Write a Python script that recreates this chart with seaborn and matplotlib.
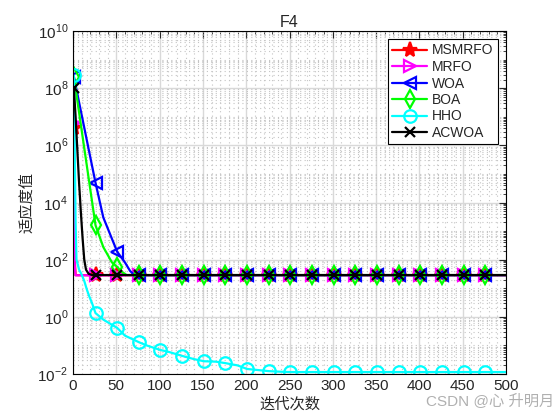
import numpy as np
import pandas as pd
import matplotlib
matplotlib.use('Agg')
import matplotlib.pyplot as plt
import matplotlib.ticker as mticker
import seaborn as sns

# 마커 위치 (1:25:500)
mark_iter = [1, 26, 51, 76, 101, 126, 151, 176, 201, 226, 251, 276, 301, 326, 351, 376, 401, 426, 451, 476]

tail_x = [26, 51, 76, 101, 126, 151, 176, 201, 226, 251, 276, 301, 326, 351, 376, 401, 426, 451, 476, 500]

# MSMRFO
msmrfo_x = [1, 2, 3] + tail_x
msmrfo_y = [4.0e6, 1.0e2, 28.7,
            28.7, 28.7, 28.7, 28.7, 28.7, 28.7, 28.7, 28.7, 28.7, 28.7,
            28.7, 28.7, 28.7, 28.7, 28.7, 28.7, 28.7, 28.7, 28.7, 28.7]

# MRFO
mrfo_x = [1, 2, 3] + tail_x
mrfo_y = [6.0e6, 60.0, 28.4,
          28.4, 28.4, 28.4, 28.4, 28.4, 28.4, 28.4, 28.4, 28.4, 28.4,
          28.4, 28.4, 28.4, 28.4, 28.4, 28.4, 28.4, 28.4, 28.4, 28.4]

# WOA
woa_x = [1, 26, 35, 51, 60, 66, 71] + tail_x[2:]
woa_y = [2.5e8, 4.9e4, 3.0e3, 190.0, 80.0, 40.0, 28.8,
         28.8, 28.8, 28.8, 28.8, 28.8, 28.8, 28.8, 28.8, 28.8,
         28.8, 28.8, 28.8, 28.8, 28.8, 28.8, 28.8, 28.8, 28.8]

# BOA
boa_x = [1, 26, 35, 45, 51, 56, 62] + tail_x[2:]
boa_y = [2.5e8, 1.6e3, 275.0, 80.0, 56.0, 38.0, 28.9,
         28.9, 28.9, 28.9, 28.9, 28.9, 28.9, 28.9, 28.9, 28.9,
         28.9, 28.9, 28.9, 28.9, 28.9, 28.9, 28.9, 28.9, 28.9]

# HHO
hho_x = [1, 2, 3, 4, 7, 10, 13, 16, 19, 22, 26, 35, 51, 60, 76, 85, 101, 110, 126, 140,
         151, 165, 176, 190, 201, 226, 240, 251, 276, 301, 326, 351, 376, 401, 426, 451, 476, 500]
hho_y = [2.8e8, 1.0e6, 2.0e3, 100.0, 45.0, 30.0, 18.0, 9.0, 5.0, 3.0, 1.35, 0.8, 0.41, 0.22,
         0.13, 0.10, 0.069, 0.06, 0.043, 0.033, 0.028, 0.027, 0.024, 0.02, 0.015, 0.0126,
         0.012, 0.0117, 0.0117, 0.0117, 0.0117, 0.0117, 0.0117, 0.0117, 0.0117, 0.0117, 0.0117, 0.0117]

# ACWOA
acwoa_x = [1, 3, 5, 7, 9, 11, 13, 15, 18, 22] + tail_x
acwoa_y = [1.0e8, 1.0e7, 7.0e5, 5.0e4, 5.0e3, 600.0, 100.0, 45.0, 32.0, 29.0,
           29.0, 29.0, 29.0, 29.0, 29.0, 29.0, 29.0, 29.0, 29.0, 29.0,
           29.0, 29.0, 29.0, 29.0, 29.0, 29.0, 29.0, 29.0, 29.0, 29.0]

series = [
    ('MSMRFO', msmrfo_x, msmrfo_y, (1, 0, 0), '*', (1, 0, 0), 11),
    ('MRFO', mrfo_x, mrfo_y, (1, 0, 1), '>', 'none', 9),
    ('WOA', woa_x, woa_y, (0, 0, 1), '<', 'none', 9),
    ('BOA', boa_x, boa_y, (0, 1, 0), 'd', 'none', 9),
    ('HHO', hho_x, hho_y, (0, 1, 1), 'o', 'none', 9),
    ('ACWOA', acwoa_x, acwoa_y, (0, 0, 0), 'x', 'none', 7),
]

sns.set_style('white')
plt.rcParams['font.family'] = ['Liberation Sans', 'Noto Sans CJK SC', 'DejaVu Sans']
plt.rcParams['mathtext.fontset'] = 'custom'
plt.rcParams['mathtext.rm'] = 'Liberation Sans'

fig = plt.figure(figsize=(5.6, 4.2), dpi=100)
ax = fig.add_axes([73 / 560, 1 - 374 / 420, 433 / 560, 343 / 420])

for name, xs, ys, col, mk, mfc, ms in series:
    df = pd.DataFrame({'iter': xs, 'fit': ys})
    idx = [i for i, v in enumerate(xs) if v in mark_iter]
    sns.lineplot(data=df, x='iter', y='fit', ax=ax, color=col, linewidth=1.6,
                 marker=mk, markevery=idx, markersize=ms, markerfacecolor=mfc,
                 markeredgecolor=col, markeredgewidth=1.6, label=name,
                 sort=False, estimator=None)

ax.set_yscale('log')
ax.set_xlim(0, 500)
ax.set_ylim(1e-2, 1e10)
ax.xaxis.set_major_locator(mticker.MultipleLocator(50))
ax.xaxis.set_minor_locator(mticker.MultipleLocator(10))
ax.yaxis.set_major_locator(mticker.FixedLocator([1e-2, 1e0, 1e2, 1e4, 1e6, 1e8, 1e10]))
ax.yaxis.set_major_formatter(mticker.FuncFormatter(lambda v, p: r'$10^{%d}$' % round(np.log10(v))))
ax.yaxis.set_minor_locator(mticker.LogLocator(base=10, subs=np.arange(1, 10), numticks=100))
ax.yaxis.set_minor_formatter(mticker.NullFormatter())

ax.grid(True, which='major', color='#d9d9d9', linewidth=1.0, linestyle='-')
ax.grid(True, which='minor', color='#c4c4c4', linewidth=0.8, linestyle=(0, (1, 3)))
ax.set_axisbelow(True)
ax.tick_params(which='both', direction='in', top=True, right=True, labelsize=11, colors='#262626')
ax.tick_params(which='major', length=5, width=0.8)
ax.tick_params(which='minor', length=2.5, width=0.6)
for sp in ax.spines.values():
    sp.set_color('black')
    sp.set_linewidth(0.8)

ax.set_title('F4', fontsize=11.5, color='#262626', pad=3)
ax.set_xlabel('迭代次数', fontsize=11, color='#262626', labelpad=3)
ax.set_ylabel('适应度值', fontsize=11, color='#262626', labelpad=2)

leg = ax.legend(loc='upper right', fontsize=10, frameon=True, fancybox=False,
                edgecolor='black', framealpha=1, handlelength=2.5, borderpad=0.3,
                labelspacing=0.18, handletextpad=0.35, borderaxespad=0.6)
leg.get_frame().set_linewidth(0.8)

fig.text(0.99, 0.025, 'CSDN @心 升明月', ha='right', va='bottom', fontsize=11, color='#b0b0b0')

fig.savefig('out.png', dpi=100)
